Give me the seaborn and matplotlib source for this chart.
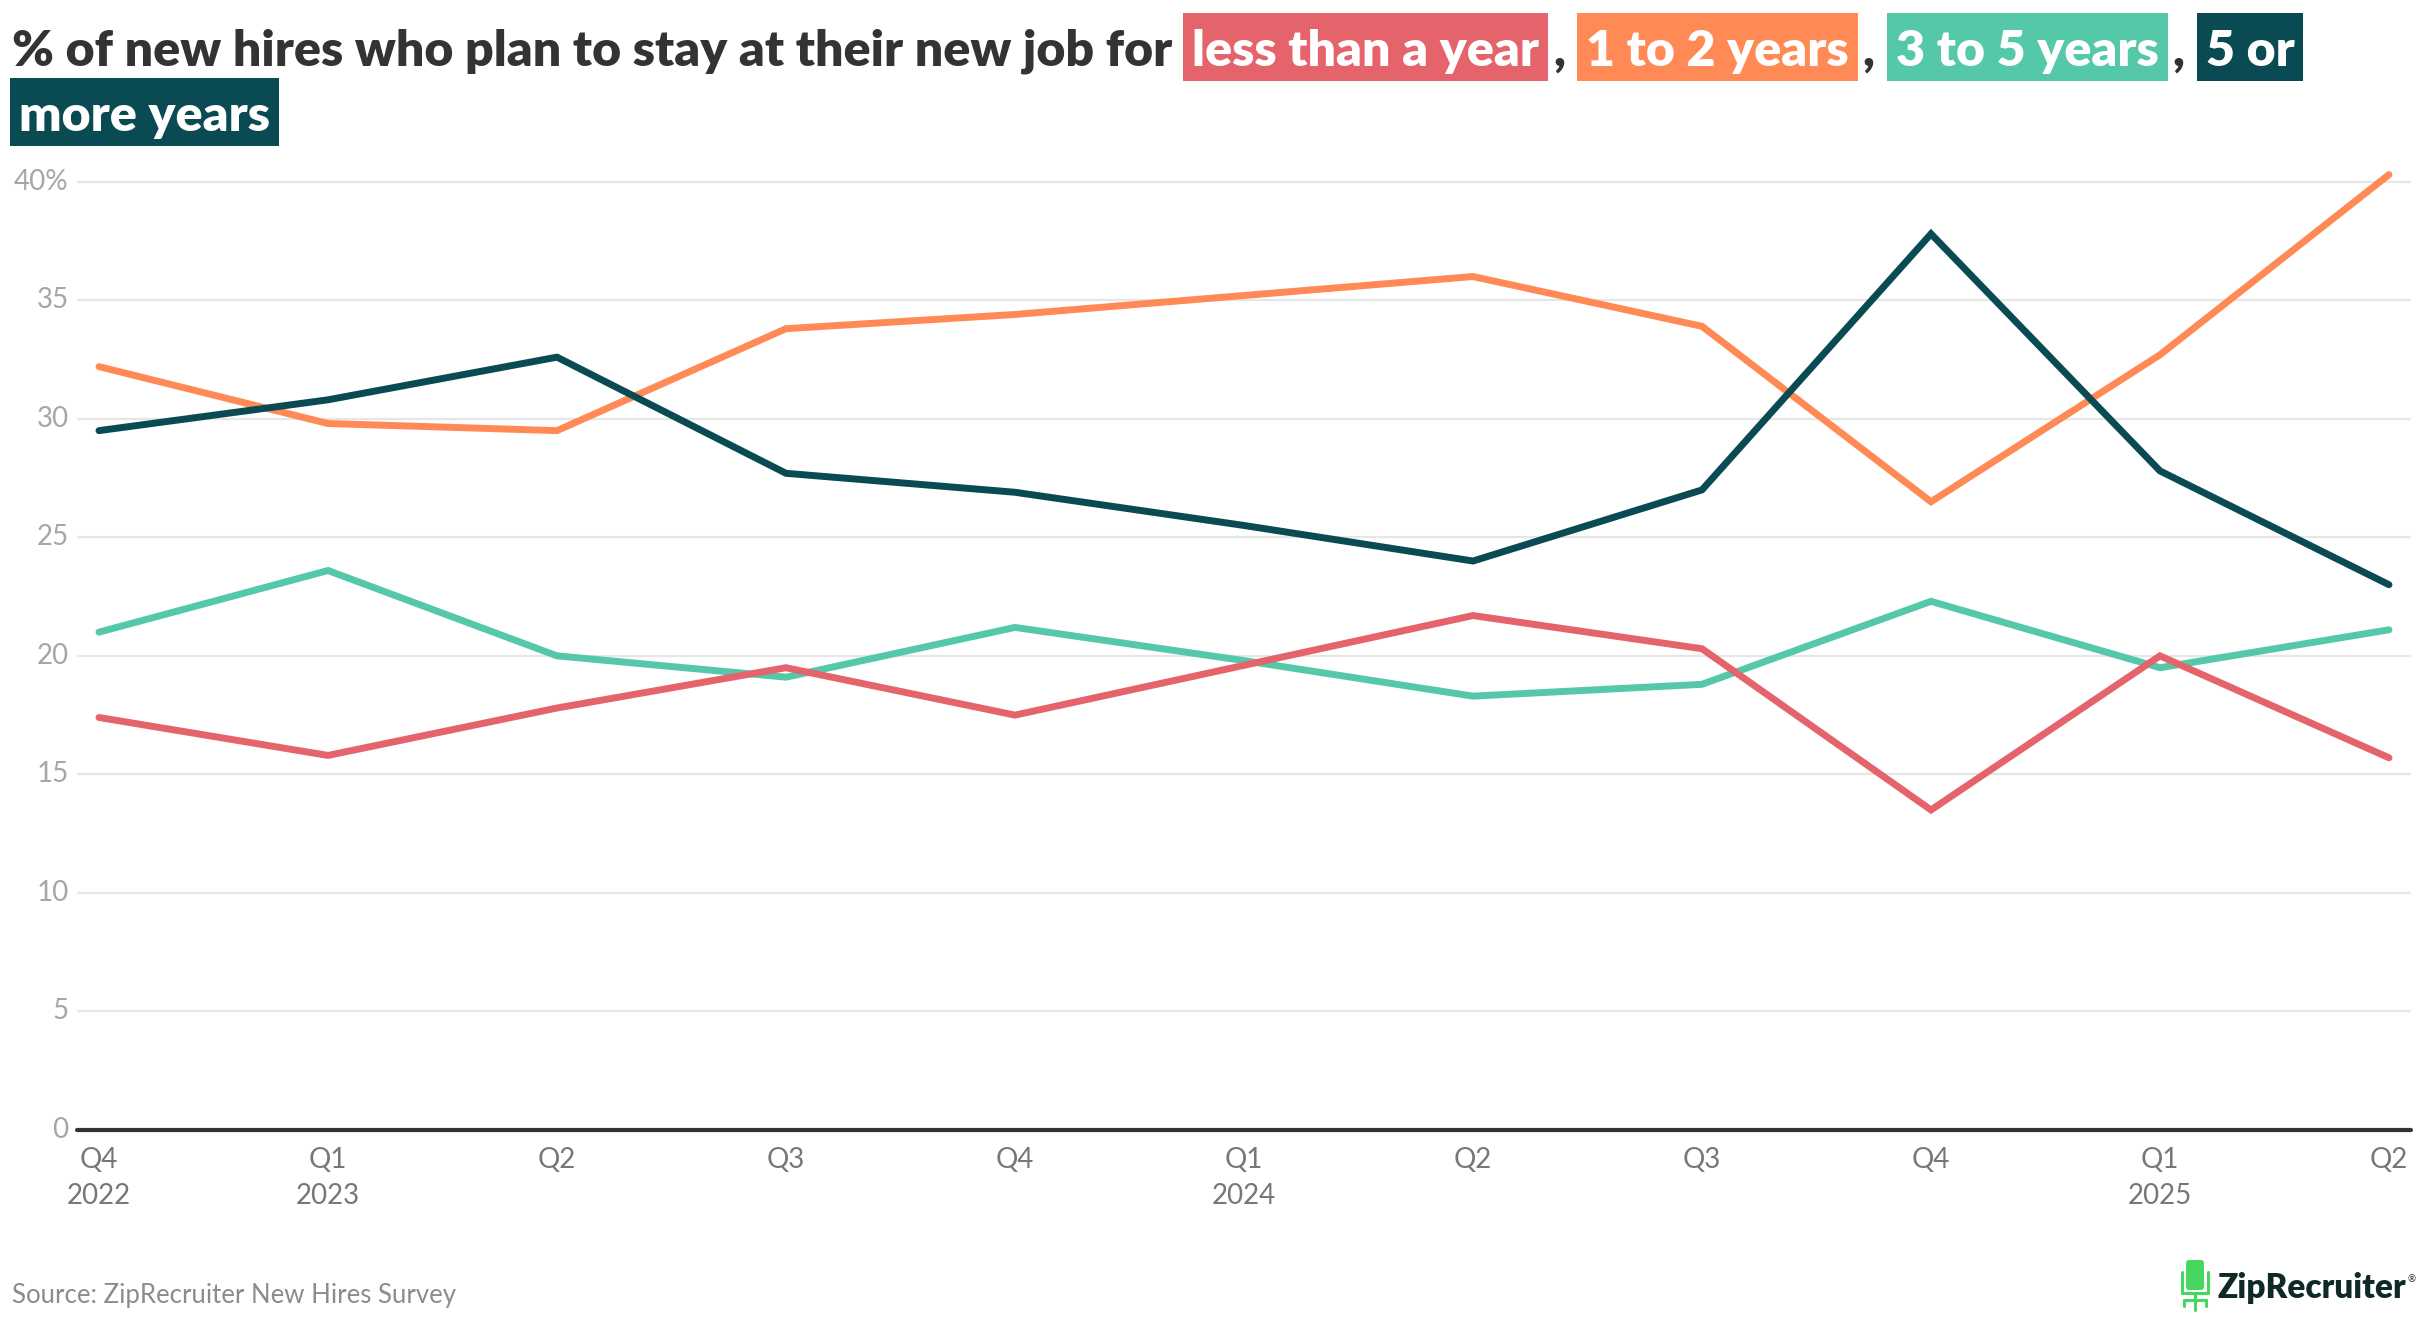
import numpy as np
import pandas as pd
import matplotlib
matplotlib.use("Agg")
import matplotlib.pyplot as plt
import seaborn as sns
from matplotlib.transforms import IdentityTransform
from matplotlib.patches import Rectangle, FancyBboxPatch
from matplotlib.lines import Line2D

# ---------------- data ----------------
quarter_labels = ["Q4\n2022", "Q1\n2023", "Q2", "Q3", "Q4", "Q1\n2024",
                  "Q2", "Q3", "Q4", "Q1\n2025", "Q2"]
less_than_a_year = [17.4, 15.8, 17.8, 19.5, 17.5, 19.6, 21.7, 20.3, 13.5, 20.0, 15.7]
one_to_two_years = [32.2, 29.8, 29.5, 33.8, 34.4, 35.2, 36.0, 33.9, 26.5, 32.7, 40.3]
three_to_five_years = [21.0, 23.6, 20.0, 19.1, 21.2, 19.8, 18.3, 18.8, 22.3, 19.5, 21.1]
five_or_more_years = [29.5, 30.8, 32.6, 27.7, 26.9, 25.5, 24.0, 27.0, 37.8, 27.8, 23.0]
series_names = ["less than a year", "1 to 2 years", "3 to 5 years", "5 or more years"]
series_values = [less_than_a_year, one_to_two_years, three_to_five_years, five_or_more_years]
series_colors = ["#E5646B", "#FF8A55", "#55C8AA", "#0A4A52"]
y_ticks = [0, 5, 10, 15, 20, 25, 30, 35, 40]
y_tick_labels = ["0", "5", "10", "15", "20", "25", "30", "35", "40%"]
source_text = "Source: ZipRecruiter New Hires Survey"

rows = []
for name, vals in zip(series_names, series_values):
    for i, v in enumerate(vals):
        rows.append({"pos": i, "value": v, "series": name})
df = pd.DataFrame(rows)

# ---------------- figure ----------------
sns.set_theme(style="white")
plt.rcParams["font.family"] = ["Lato", "DejaVu Sans"]

W, H = 2420, 1320
fig = plt.figure(figsize=(W / 100, H / 100), dpi=100)
renderer = fig.canvas.get_renderer()
ID = IdentityTransform()

ax_left, ax_right = 77, 2411
ax_bottom_px, ax_top_px = 1130, 158
ax = fig.add_axes([ax_left / W, 1 - ax_bottom_px / H,
                   (ax_right - ax_left) / W, (ax_bottom_px - ax_top_px) / H])

palette = dict(zip(series_names, series_colors))
sns.lineplot(data=df, x="pos", y="value", hue="series", palette=palette,
             hue_order=series_names, linewidth=5.0, legend=False, ax=ax,
             sort=False)
zorders = {0: 3, 1: 4, 2: 2.5, 3: 5}
for i, ln in enumerate(ax.lines):
    ln.set_solid_capstyle("round")
    ln.set_solid_joinstyle("miter")
    ln.set_clip_on(False)
    ln.set_zorder(zorders.get(i, 3))

ax.set_xlim(-0.096, 10.096)
ax.set_ylim(0, 41)
ax.set_yticks(y_ticks)
ax.set_yticklabels(y_tick_labels)
ax.set_xticks(range(len(quarter_labels)))
ax.set_xticklabels(quarter_labels, linespacing=1.5)
ax.set_xlabel("")
ax.set_ylabel("")
for s in ax.spines.values():
    s.set_visible(False)
ax.yaxis.grid(True, color="#E6E6E6", linewidth=1.6)
ax.xaxis.grid(False)
ax.set_axisbelow(True)
ax.axhline(0, color="#333333", linewidth=3.0, zorder=6, clip_on=False)
ax.tick_params(axis="y", length=0, pad=6, labelsize=20, labelcolor="#A6A6A6")
ax.tick_params(axis="x", length=0, pad=12, labelsize=20, labelcolor="#777777")
for lab in ax.get_yticklabels():
    lab.set_verticalalignment("center")

# ---------------- title with highlighted keys ----------------
title_artists = []


def draw_title(fs):
    for a in title_artists:
        a.remove()
    title_artists.clear()
    base1 = H - 66
    base2 = H - 131
    pad = 9

    def txt(x, y, s, color):
        t = fig.text(x, y, s, transform=ID, fontsize=fs, fontweight="heavy",
                     color=color, ha="left", va="baseline")
        title_artists.append(t)
        return t.get_window_extent(renderer)

    def box(x, base, s, color):
        bb = txt(x + pad, base, s, "white")
        right = bb.x1 + pad
        r = Rectangle((x, base - 15), right - x, 68, transform=ID,
                      facecolor=color, edgecolor="none", zorder=0)
        fig.add_artist(r)
        title_artists.append(r)
        return right

    bb = txt(12, base1, "% of new hires who plan to stay at their new job for", "#333333")
    x = bb.x1 + 11
    keys = [("less than a year", series_colors[0]),
            ("1 to 2 years", series_colors[1]),
            ("3 to 5 years", series_colors[2])]
    for s, c in keys:
        right = box(x, base1, s, c)
        cb = txt(right + 5, base1, ",", "#333333")
        x = cb.x1 + 12
    right = box(x, base1, "5 or", series_colors[3])
    box(10, base2, "more years", series_colors[3])
    return right


fs0 = 34
r = draw_title(fs0)
fs1 = fs0 * (2304 - 12) / (r - 12)
r = draw_title(fs1)
fs2 = fs1 * (2304 - 12) / (r - 12)
draw_title(fs2)

# ---------------- source ----------------
fig.text(12, H - 1303, source_text, transform=ID, fontsize=18.5,
         color="#8C8C8C", ha="left", va="baseline")

# ---------------- logo ----------------
green = "#46D760"
back = FancyBboxPatch((2186, H - 1290), 18, 30, boxstyle="round,pad=0,rounding_size=3",
                      transform=ID, facecolor=green, edgecolor="none")
fig.add_artist(back)
for xs, ys in [([2182, 2182, 2208, 2208], [H - 1272, H - 1293, H - 1293, H - 1272]),
               ([2195, 2195], [H - 1293, H - 1305]),
               ([2184, 2206], [H - 1300, H - 1300]),
               ([2184, 2184], [H - 1300, H - 1306]),
               ([2206, 2206], [H - 1300, H - 1306]),
               ([2195, 2195], [H - 1305, H - 1310])]:
    fig.add_artist(Line2D(xs, ys, transform=ID, color=green, linewidth=2.2))
logo = fig.text(2218, H - 1298, "ZipRecruiter", transform=ID, fontsize=24,
                fontweight="heavy", color="#0F2A26", ha="left", va="baseline")
lb = logo.get_window_extent(renderer)
fig.text(lb.x1 + 1, H - 1282, "®", transform=ID, fontsize=7,
         color="#0F2A26", ha="left", va="baseline")

fig.savefig("out.png", dpi=100, facecolor="white")
